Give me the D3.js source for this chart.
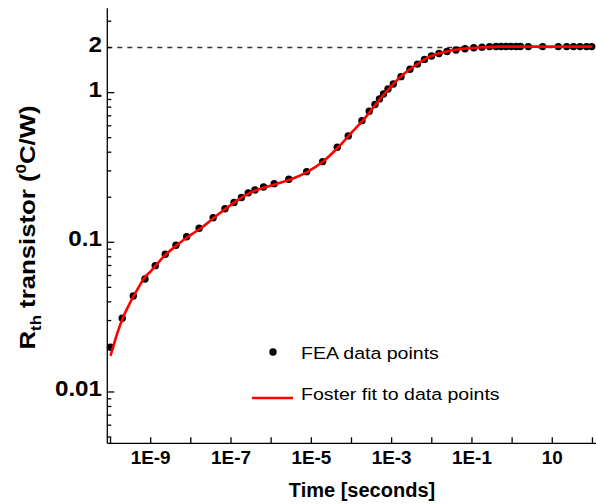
<!DOCTYPE html>
<html>
<head>
  <title>Rth transistor</title>
  <meta charset="utf-8">
  <style>
    body{
      background-color:#fff;
      margin: 0;
      padding: 0;
    }
    .chart text{
      font-family: "Liberation Sans", Arial, sans-serif;
      fill: #000;
    }
    .bold{
      font-weight: bold;
    }
  </style>
</head>
<body>
  <svg class="chart"></svg>

<script src="https://cdn.jsdelivr.net/npm/d3@7"></script>
<script>

// FEA data points (time in s, Rth in degC/W)
var feaTime = [1.0e-10, 1.96e-10, 3.69e-10, 7.2e-10, 1.30e-9, 2.31e-9, 4.27e-9, 7.87e-9,
  1.61e-8, 3.6e-8, 7.08e-8, 1.19e-7, 1.82e-7, 2.69e-7, 3.95e-7, 6.47e-7, 1.19e-6, 2.75e-6,
  7.66e-6, 1.92e-5, 4.43e-5, 8.32e-5, 1.82e-4, 2.77e-4, 3.85e-4, 4.98e-4, 6.26e-4, 8.11e-4,
  1.10e-3, 1.71e-3, 2.86e-3, 4.40e-3, 6.57e-3, 9.82e-3, 1.51e-2, 2.39e-2, 4.0e-2, 6.7e-2,
  0.111, 0.178, 0.274, 0.396, 0.527, 0.703, 0.936, 1.25, 1.61, 2.53, 5.77, 14.1, 22.9,
  33.7, 49, 71, 96];
var feaRth = [0.0199, 0.0311, 0.0438, 0.0569, 0.0698, 0.0832, 0.0956, 0.109,
  0.124, 0.146, 0.1675, 0.1845, 0.199, 0.214, 0.224, 0.234, 0.2465, 0.264,
  0.2965, 0.346, 0.432, 0.514, 0.650, 0.751, 0.834, 0.908, 0.980, 1.058,
  1.143, 1.279, 1.434, 1.551, 1.667, 1.759, 1.828, 1.885, 1.929, 1.965,
  1.995, 2.014, 2.030, 2.035, 2.035, 2.035, 2.035, 2.035, 2.035, 2.03, 2.03, 2.03, 2.03,
  2.03, 2.03, 2.03, 2.03];

// Foster fit curve
var fitTime = [1.0e-10, 1.5e-10, 2e-10, 3e-10, 5e-10, 7e-10, 1e-9, 2e-9, 5e-9, 1e-8, 2e-8,
  5e-8, 1e-7, 2e-7, 4e-7, 1e-6, 3e-6, 8e-6, 2e-5, 5e-5, 1e-4, 2e-4, 5e-4, 1e-3, 2e-3,
  4e-3, 7e-3, 1.5e-2, 3e-2, 7e-2, 0.2, 0.5, 100];
var fitRth = [0.0174, 0.025, 0.031, 0.039, 0.050, 0.058, 0.064, 0.079, 0.098, 0.112, 0.127,
  0.155, 0.178, 0.202, 0.222, 0.240, 0.263, 0.296, 0.348, 0.44, 0.54, 0.66, 0.90, 1.11, 1.33,
  1.53, 1.68, 1.83, 1.91, 1.97, 2.01, 2.03, 2.03];

var xTicks = [1e-10, 1e-9, 1e-8, 1e-7, 1e-6, 1e-5, 1e-4, 1e-3, 1e-2, 1e-1, 1, 10, 100];
var xLabels = ["1E-9", "1E-7", "1E-5", "1E-3", "1E-1", "10"];
var xLabelValues = [1e-9, 1e-7, 1e-5, 1e-3, 1e-1, 10];
var yLabels = ["0.01", "0.1", "1", "2"];
var yLabelValues = [0.01, 0.1, 1, 2];
var yMajor = [0.01, 0.1, 1];
var asymptote = 2;

var width = 596, height = 504;

var svg = d3.select(".chart")
    .attr("width", width)
    .attr("height", height);

var x = d3.scaleLog()
    .domain([Math.pow(10, -10.08), 1000])
    .range([107.3, 107.3 + 40.16 * 13.08]);
var y = d3.scaleLog()
    .domain([0.00454, 3.66])
    .range([443.3, 8.3]);

// minor y ticks 2..9 per decade
var yMinor = [];
[0.001, 0.01, 0.1, 1].forEach(function(dec) {
  for (var k = 2; k <= 9; k++) {
    var v = k * dec;
    if (v > y.domain()[0] && v < y.domain()[1]) yMinor.push(v);
  }
});

var x0 = x.range()[0], y0 = y.range()[0];

// dashed asymptote
svg.append("line")
    .attr("x1", x0).attr("x2", width)
    .attr("y1", y(asymptote)).attr("y2", y(asymptote))
    .attr("stroke", "#333").attr("stroke-width", 1.5)
    .attr("stroke-dasharray", "5,5");

// data points
svg.append("g").selectAll("circle")
    .data(feaTime)
    .enter().append("circle")
    .attr("cx", function(d) { return x(d); })
    .attr("cy", function(d, i) { return y(feaRth[i]); })
    .attr("r", 3.7)
    .attr("fill", "#000");

// fit line
var line = d3.line()
    .x(function(d) { return x(d); })
    .y(function(d, i) { return y(fitRth[i]); })
    .curve(d3.curveMonotoneX);

svg.append("path")
    .datum(fitTime)
    .attr("d", line)
    .attr("fill", "none")
    .attr("stroke", "#ff0000")
    .attr("stroke-width", 2.6);

// axes
var axis = svg.append("g").attr("stroke", "#000").attr("stroke-width", 1.3);
axis.append("line").attr("x1", x0).attr("x2", width).attr("y1", y0).attr("y2", y0);
axis.append("line").attr("x1", x0).attr("x2", x0).attr("y1", y0).attr("y2", y.range()[1]);

axis.selectAll(".xt").data(xTicks).enter().append("line")
    .attr("x1", function(d) { return x(d); }).attr("x2", function(d) { return x(d); })
    .attr("y1", y0).attr("y2", y0 - 6);
axis.selectAll(".ymaj").data(yMajor).enter().append("line")
    .attr("x1", x0).attr("x2", x0 + 7)
    .attr("y1", function(d) { return y(d); }).attr("y2", function(d) { return y(d); });
axis.selectAll(".ymin").data(yMinor).enter().append("line")
    .attr("x1", x0).attr("x2", x0 + 4)
    .attr("y1", function(d) { return y(d); }).attr("y2", function(d) { return y(d); });

// tick labels
svg.append("g").selectAll("text")
    .data(xLabelValues)
    .enter().append("text")
    .attr("class", "bold")
    .attr("transform", function(d) { return "translate(" + x(d) + ",463.5) scale(1.05,1)"; })
    .attr("text-anchor", "middle")
    .style("font-size", "18px")
    .text(function(d, i) { return xLabels[i]; });

svg.append("g").selectAll("text")
    .data(yLabelValues)
    .enter().append("text")
    .attr("class", "bold")
    .attr("transform", function(d) { return "translate(102," + (y(d) + 4) + ") scale(1.1,1)"; })
    .attr("text-anchor", "end")
    .style("font-size", "22px")
    .text(function(d, i) { return yLabels[i]; });

// axis titles
svg.append("text")
    .attr("class", "bold")
    .attr("x", 362)
    .attr("y", 497)
    .attr("text-anchor", "middle")
    .style("font-size", "20px")
    .text("Time [seconds]");

var yt = svg.append("text")
    .attr("class", "bold")
    .attr("transform", "translate(35,227.5) rotate(-90) scale(1.12,1)")
    .attr("text-anchor", "middle")
    .style("font-size", "23px");
yt.append("tspan").text("R");
yt.append("tspan").attr("dy", 6).style("font-size", "15px").text("th");
yt.append("tspan").attr("dy", -6).text(" transistor (");
yt.append("tspan").attr("dy", -9).style("font-size", "15px").text("0");
yt.append("tspan").attr("dy", 9).text("C/W)");

// legend
var leg = svg.append("g");
leg.append("circle").attr("cx", 273).attr("cy", 352).attr("r", 3.7).attr("fill", "#000");
leg.append("text").attr("transform", "translate(301,358.5) scale(1.15,1)")
    .style("font-size", "17px").text("FEA data points");
leg.append("line").attr("x1", 252).attr("x2", 293).attr("y1", 398).attr("y2", 398)
    .attr("stroke", "#ff0000").attr("stroke-width", 2.6);
leg.append("text").attr("transform", "translate(301,400) scale(1.15,1)")
    .style("font-size", "17px").text("Foster fit to data points");

</script>
</body>
</html>
